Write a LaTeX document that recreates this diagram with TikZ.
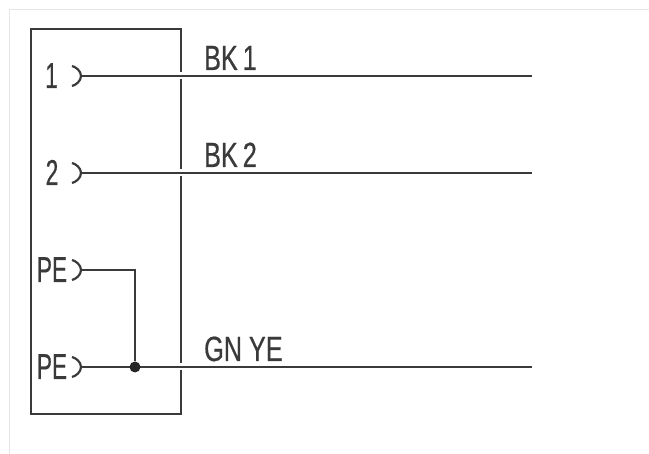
\documentclass[tikz,border=0pt]{standalone}
\usepackage{fontspec}
\setmainfont[FakeStretch=0.72,FakeBold=0.5]{Liberation Sans}
\newfontfamily\pinfont[FakeStretch=0.63,FakeBold=0.5]{Liberation Sans}
\definecolor{inkgray}{HTML}{3A3A3A}
\definecolor{framegray}{HTML}{E6E6E6}
\tikzset{
  wire/.style={draw=inkgray,line width=2.2pt},
  housing/.style={draw=inkgray,line width=2pt},
  pagerule/.style={draw=framegray,line width=1.3pt},
  wirelabel/.style={text=inkgray,font=\fontsize{35}{35}\selectfont,inner sep=0pt,anchor=base west},
  pinlabel/.style={text=inkgray,font=\pinfont\fontsize{36}{36}\selectfont,inner sep=0pt,anchor=base},
  wiregap/.style={fill=white,inner sep=0pt,minimum width=5pt,minimum height=7pt},
  joint/.style={circle,fill=black!85,inner sep=0pt,minimum size=11pt},
}
\begin{document}
\begin{tikzpicture}[x=1pt,y=-1pt]
  \useasboundingbox (0,0) rectangle (649,454);
  \coordinate (rulea) at (9.5,454);
  \coordinate (ruleb) at (9.5,9.5);
  \coordinate (rulec) at (649,9.5);
  \draw[pagerule] (rulea) -- (ruleb) -- (rulec);

  \node[housing,minimum width=150pt,minimum height=385pt,inner sep=0pt] (box) at (106,221.5) {};

  \coordinate (pin1) at (81,76);
  \coordinate (pin2) at (81,173);
  \coordinate (pin3) at (81,270);
  \coordinate (pin4) at (81,367);
  \foreach \pin in {pin1,pin2,pin3,pin4}
    \draw[wire] (\pin) .. controls +(0,-5) and +(4,1) .. ++(-9,-10)
                (\pin) .. controls +(0,5) and +(4,-1) .. ++(-9,10);

  \node[pinlabel] (lab1) at (51.5,88) {1};
  \node[pinlabel] (lab2) at (52,185) {2};
  \node[pinlabel] (lab3) at (52,282) {PE};
  \node[pinlabel] (lab4) at (52,379) {PE};

  \node[wiregap] (gap1) at (181,76) {};
  \node[wiregap] (gap2) at (181,173) {};
  \node[wiregap] (gap4) at (181,367) {};

  \coordinate (end1) at (532,76);
  \coordinate (end2) at (532,173);
  \coordinate (end4) at (532,367);
  \draw[wire] (pin1) -- (end1);
  \draw[wire] (pin2) -- (end2);
  \draw[wire] (pin4) -- (end4);

  \node[joint] (dot) at (135,367) {};
  \draw[wire] (pin3) -| (dot);

  \node[wirelabel] (bk1) at (204,70) {BK\kern-2pt\ 1};
  \node[wirelabel] (bk2) at (204,167) {BK\kern-2pt\ 2};
  \node[wirelabel] (gnye) at (204,361) {GN YE};
\end{tikzpicture}
\end{document}
